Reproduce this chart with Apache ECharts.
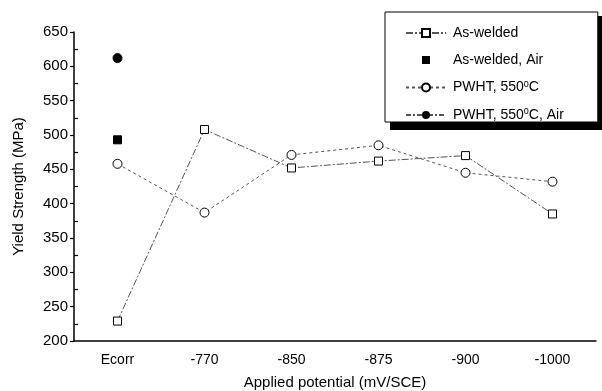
<!DOCTYPE html>
<html><head><meta charset="utf-8">
<script src="https://cdn.jsdelivr.net/npm/echarts@6/dist/echarts.min.js"></script>
<style>html,body{margin:0;padding:0;background:#fff;overflow:hidden}#c{width:602px;height:391px}</style>
</head><body><div id="c"></div>
<script>
const categories = ['Ecorr', '-770', '-850', '-875', '-900', '-1000'];
const asWelded = [229, 508, 452, 462, 470, 385];
const asWeldedAir = [493, '-', '-', '-', '-', '-'];
const pwht = [458, 387, 471, 485, 445, 432];
const pwhtAir = [612, '-', '-', '-', '-', '-'];
const yTicks = [200, 650, 50];

const font = 'Liberation Sans, Arial, sans-serif';
const chart = echarts.init(document.getElementById('c'), null, {renderer: 'canvas', width: 602, height: 391});
const lineColor = '#555';
chart.setOption({
  animation: false,
  backgroundColor: '#fff',
  grid: {left: 74, right: 6, top: 32, bottom: 50, outerBoundsMode: 'none', containLabel: false},
  title: {
    text: ' ', left: 390, top: 16, z: 2,
    padding: [56, 106, 56, 106], itemGap: 0,
    backgroundColor: '#000', borderWidth: 0,
    textStyle: {fontSize: 1, lineHeight: 2, color: '#000'}
  },
  legend: {
    orient: 'vertical', left: 385, top: 12, z: 10,
    padding: [14, 34, 0, 20], itemGap: 13, itemWidth: 40, itemHeight: 10,
    backgroundColor: '#fff', borderColor: '#000', borderWidth: 1,
    textStyle: {fontFamily: font, fontSize: 14, color: '#000', padding: [0,0,0,2],
      rich: {sup: {fontFamily: font, fontSize: 9, verticalAlign: 'top', padding: [0,0,6,0], color:'#000'}}},
    formatter: n => n.replace('550\u00b0C', '550{sup|0}C'),
    data: ['As-welded', 'As-welded, Air', 'PWHT, 550\u00b0C', 'PWHT, 550\u00b0C, Air']
  },
  xAxis: [{
    type: 'category', data: categories, boundaryGap: true,
    name: 'Applied potential (mV/SCE)', nameLocation: 'middle', nameGap: 34,
    nameTextStyle: {fontFamily: font, fontSize: 15, color: '#000'},
    axisLine: {lineStyle: {color: '#000', width: 1.5}},
    axisTick: {inside: true, alignWithLabel: true, length: 6, lineStyle: {color: '#000', width: 1.2}},
    axisLabel: {fontFamily: font, fontSize: 14, color: '#000', margin: 12},
    splitLine: {show: false}
  }, {
    type: 'category', data: categories, boundaryGap: true, position: 'bottom',
    axisLine: {show: false},
    axisTick: {inside: true, alignWithLabel: false, length: 3, lineStyle: {color: '#000', width: 1.2}},
    axisLabel: {show: false}, splitLine: {show: false}
  }],
  yAxis: [{
    type: 'value', min: yTicks[0], max: yTicks[1], interval: yTicks[2],
    name: 'Yield Strength (MPa)', nameLocation: 'middle', nameGap: 48,
    nameTextStyle: {fontFamily: font, fontSize: 15, color: '#000'},
    axisLine: {show: true, lineStyle: {color: '#000', width: 1.5}},
    axisTick: {show: true, inside: false, length: 4, lineStyle: {color: '#000', width: 1.2}},
    axisLabel: {fontFamily: font, fontSize: 15, color: '#000', margin: 6},
    splitLine: {show: false}
  }, {
    type: 'value', min: yTicks[0], max: yTicks[1], interval: yTicks[2], position: 'left',
    axisLine: {show: false},
    axisTick: {show: false, inside: true, length: 5},
    minorTick: {show: true, splitNumber: 2, length: 4, lineStyle: {color: '#000', width: 1.2}},
    axisLabel: {show: false}, splitLine: {show: false}
  }],
  series: [{
    name: 'As-welded', type: 'line', data: asWelded,
    symbol: 'rect', symbolSize: 8,
    itemStyle: {color: '#fff', borderColor: '#000', borderWidth: 1},
    lineStyle: {color: lineColor, width: 1, type: [7, 2, 2, 2]}
  }, {
    name: 'As-welded, Air', type: 'line', data: asWeldedAir,
    symbol: 'rect', symbolSize: 8,
    itemStyle: {color: '#000', borderColor: '#000'},
    lineStyle: {width: 0, color: '#fff'}
  }, {
    name: 'PWHT, 550\u00b0C', type: 'line', data: pwht,
    symbol: 'circle', symbolSize: 9,
    itemStyle: {color: '#fff', borderColor: '#000', borderWidth: 1},
    lineStyle: {color: lineColor, width: 1, type: [3, 3]}
  }, {
    name: 'PWHT, 550\u00b0C, Air', type: 'line', data: pwhtAir,
    symbol: 'circle', symbolSize: 9,
    itemStyle: {color: '#000', borderColor: '#000'},
    lineStyle: {color: lineColor, width: 1, type: [5, 2, 2, 2]}
  }]
});
</script></body></html>
